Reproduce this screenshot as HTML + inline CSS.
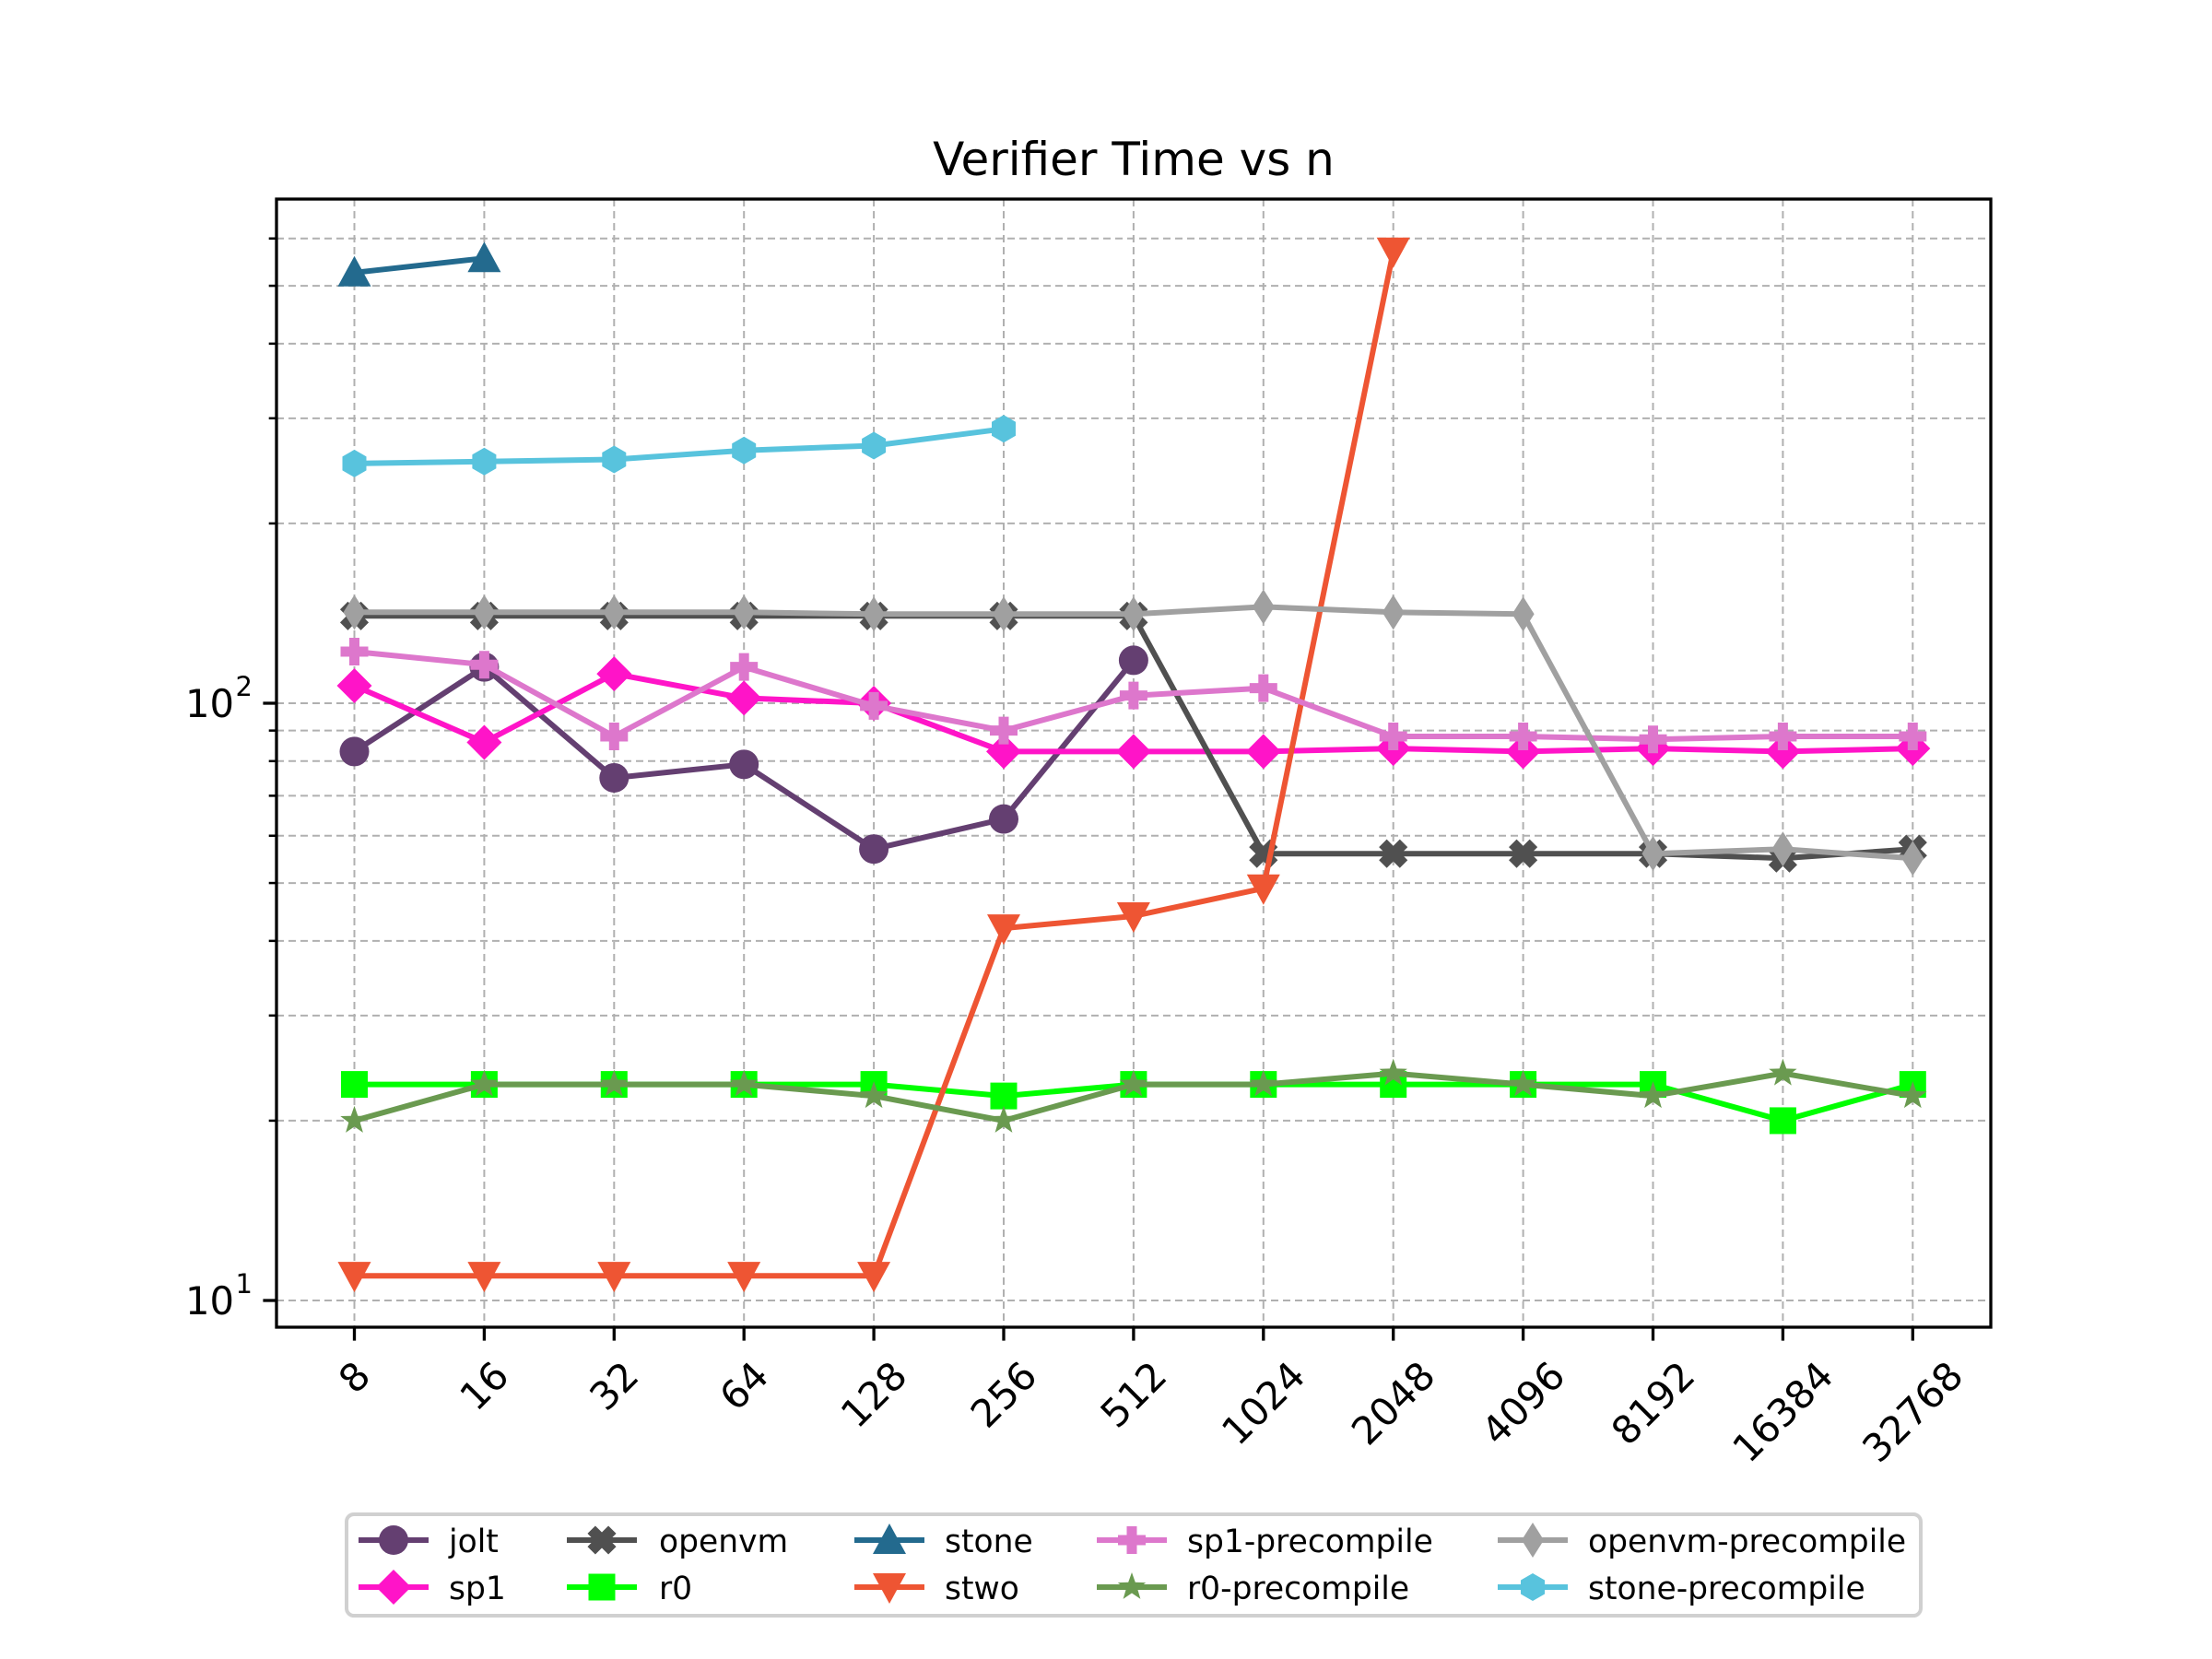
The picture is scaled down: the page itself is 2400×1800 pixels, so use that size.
<!DOCTYPE html>
<html><head><meta charset="utf-8"><style>
html,body{margin:0;padding:0;background:#fff;}
svg{display:block;font-family:"DejaVu Sans","Liberation Sans",sans-serif;}
</style></head><body>
<svg id="s" width="2400" height="1800" viewBox="0 0 2400 1800" xmlns="http://www.w3.org/2000/svg"></svg>
<script>
const S=document.getElementById('s');
let h='';
const L=300,R=2160,T=216,B=1440;
const X=i=>384.5+i*140.9;
const Y=v=>763-(Math.log10(v)-2)*648;
const minors=[20,30,40,50,60,70,80,90,200,300,400,500,600];
const majors=[10,100];
h+='<rect x="0" y="0" width="2400" height="1800" fill="#fff"/>';
for(const v of minors.concat(majors)){const y=Y(v);h+=`<line x1="${L}" x2="${R}" y1="${y}" y2="${y}" stroke="#b0b0b0" stroke-width="2" stroke-dasharray="8,5"/>`;}
const xl=['8','16','32','64','128','256','512','1024','2048','4096','8192','16384','32768'];
for(let i=0;i<13;i++){const x=X(i);h+=`<line x1="${x}" x2="${x}" y1="${T}" y2="${B}" stroke="#b0b0b0" stroke-width="2" stroke-dasharray="8,5"/>`;}
function mk(t,x,y,c){
 switch(t){
 case 'o':return `<circle cx="${x}" cy="${y}" r="16" fill="${c}"/>`;
 case 'D':return `<polygon points="${x},${y-19} ${x+19},${y} ${x},${y+19} ${x-19},${y}" fill="${c}"/>`;
 case 's':return `<rect x="${x-14.5}" y="${y-14.5}" width="29" height="29" fill="${c}"/>`;
 case '^':return `<polygon points="${x},${y-18} ${x+18},${y+15} ${x-18},${y+15}" fill="${c}"/>`;
 case 'v':return `<polygon points="${x},${y+18} ${x+18},${y-15} ${x-18},${y-15}" fill="${c}"/>`;
 case 'X':{const a=6,b=16;return `<polygon transform="translate(${x},${y}) rotate(45)" points="${-a},${-b} ${a},${-b} ${a},${-a} ${b},${-a} ${b},${a} ${a},${a} ${a},${b} ${-a},${b} ${-a},${a} ${-b},${a} ${-b},${-a} ${-a},${-a}" fill="${c}"/>`;}
 case 'P':{const a=5.5,b=15;return `<polygon transform="translate(${x},${y})" points="${-a},${-b} ${a},${-b} ${a},${-a} ${b},${-a} ${b},${a} ${a},${a} ${a},${b} ${-a},${b} ${-a},${a} ${-b},${a} ${-b},${-a} ${-a},${-a}" fill="${c}"/>`;}
 case '*':{let p=[];for(let k=0;k<10;k++){const rr=k%2?6.5:16,an=-Math.PI/2+k*Math.PI/5;p.push((x+rr*Math.cos(an)).toFixed(1)+','+(y+rr*Math.sin(an)).toFixed(1));}return `<polygon points="${p.join(' ')}" fill="${c}"/>`;}
 case 'd':return `<polygon points="${x},${y-19} ${x+12},${y} ${x},${y+19} ${x-12},${y}" fill="${c}"/>`;
 case 'h':{let p=[];for(let k=0;k<6;k++){const an=-Math.PI/2+k*Math.PI/3;p.push((x+15*Math.cos(an)).toFixed(1)+','+(y+15*Math.sin(an)).toFixed(1));}return `<polygon points="${p.join(' ')}" fill="${c}"/>`;}
 }
}
const series=[
['jolt','#643f71','o',[83,115,75,79,57,64,118]],
['sp1','#ff14c8','D',[107,86,112,102,100,83,83,83,84,83,84,83,84]],
['openvm','#505050','X',[140,140,140,140,140,140,140,56,56,56,56,55,57]],
['r0','#00ff00','s',[23,23,23,23,23,22,23,23,23,23,23,20,23]],
['stone','#236a8e','^',[526,556]],
['stwo','#ee5533','v',[11,11,11,11,11,42,44,49,571]],
['sp1-precompile','#dd77cc','P',[122,116,88,115,99,90,103,106,88,88,87,88,88]],
['r0-precompile','#6a9a50','*',[20,23,23,23,22,20,23,23,24,23,22,24,22]],
['openvm-precompile','#a0a0a0','d',[142,142,142,142,141,141,141,145,142,141,56,57,55]],
['stone-precompile','#58c3dd','h',[252,254,256,265,270,288]]
];
h+=`<clipPath id="c"><rect x="${L}" y="${T}" width="${R-L}" height="${B-T}"/></clipPath><g clip-path="url(#c)">`;
for(const [n,c,m,d] of series){
 const pts=d.map((v,i)=>X(i).toFixed(1)+','+Y(v).toFixed(1)).join(' ');
 h+=`<polyline points="${pts}" fill="none" stroke="${c}" stroke-width="6" stroke-linejoin="round"/>`;
 d.forEach((v,i)=>h+=mk(m,X(i),Y(v),c));
}
h+='</g>';
h+=`<rect x="${L}" y="${T}" width="${R-L}" height="${B-T}" fill="none" stroke="#000" stroke-width="3.3"/>`;
for(let i=0;i<13;i++){const x=X(i);h+=`<line x1="${x}" x2="${x}" y1="${B}" y2="${B+14.6}" stroke="#000" stroke-width="3.3"/>`;
 const w=xl[i].length*26.5,hh=48,cy=1468+(w+hh)/(2*Math.SQRT2);
 h+=`<text x="${x}" y="${cy}" font-size="41.7" text-anchor="middle" dominant-baseline="central" transform="rotate(-45 ${x} ${cy})">${xl[i]}</text>`;}
for(const v of minors){const y=Y(v);h+=`<line x1="${L}" x2="${L-8.3}" y1="${y}" y2="${y}" stroke="#000" stroke-width="2.5"/>`;}
for(const [v,e] of [[10,'1'],[100,'2']]){const y=Y(v);h+=`<line x1="${L}" x2="${L-14.6}" y1="${y}" y2="${y}" stroke="#000" stroke-width="3.3"/>`;
 h+=`<text x="${L-46}" y="${y+15}" font-size="41.7" text-anchor="end">10</text><text x="${L-26}" y="${y-8}" font-size="29" text-anchor="end">${e}</text>`;}
h+=`<text x="1230" y="190" font-size="50" text-anchor="middle">Verifier Time vs n</text>`;
h+=`<rect x="376" y="1643" width="1708" height="110" rx="8" fill="#fff" fill-opacity="0.8" stroke="#d0d0d0" stroke-width="4"/>`;
const hx=[389,615,927,1190,1625],tx=[487,715,1025,1288,1723],ry=[1671,1722];
series.forEach(([n,c,m],k)=>{const col=Math.floor(k/2),row=k%2;const x=hx[col],y=ry[row];
 h+=`<line x1="${x}" x2="${x+76}" y1="${y}" y2="${y}" stroke="${c}" stroke-width="6"/>`+mk(m,x+38,y,c);
 h+=`<text x="${tx[col]}" y="${y+13}" font-size="34.5">${n}</text>`;});
S.innerHTML=h;
</script>
</body></html>
